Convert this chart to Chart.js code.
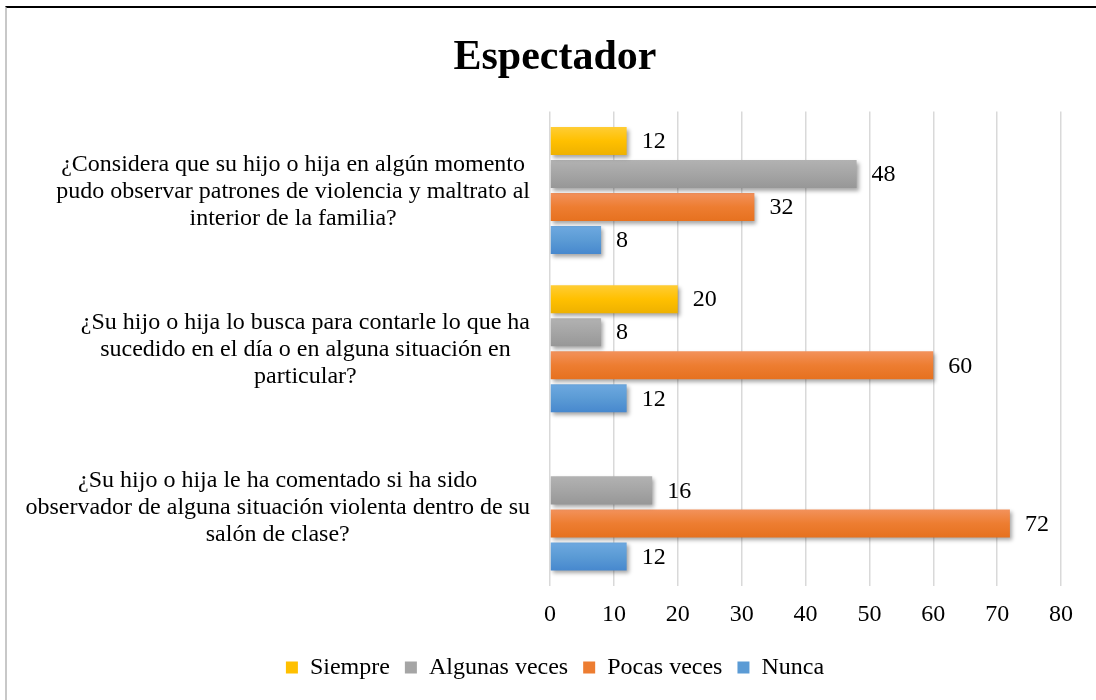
<!DOCTYPE html>
<html>
<head>
<meta charset="utf-8">
<script src="https://cdn.jsdelivr.net/npm/chart.js@4.4.1/dist/chart.umd.min.js"></script>
<style>
html,body{margin:0;padding:0;background:#fff;}
#frame{position:absolute;left:5px;top:6px;width:1095px;height:700px;border-top:2px solid #000;border-left:2px solid #c8c8c8;box-sizing:border-box;}
#wrap{position:absolute;left:0;top:0;width:1096px;height:700px;}
</style>
</head>
<body>
<div id="frame"></div>
<div id="wrap"><canvas id="c" width="1096" height="700"></canvas></div>
<script>
const categories = [
  ["¿Considera que su hijo o hija en algún momento", "pudo observar patrones de violencia y maltrato al", "interior de la familia?"],
  ["¿Su hijo o hija lo busca para contarle lo que ha", "sucedido en el día o en alguna situación en", "particular?"],
  ["¿Su hijo o hija le ha comentado si ha sido", "observador de alguna situación violenta dentro de su", "salón de clase?"]
];
const seriesNames = ["Siempre", "Algunas veces", "Pocas veces", "Nunca"];
const siempre = [12, 20, null];
const algunasVeces = [48, 8, 16];
const pocasVeces = [32, 60, 72];
const nunca = [8, 12, 12];
const xTicks = [0, 10, 20, 30, 40, 50, 60, 70, 80];

const baseColors = ["#FFC000", "#A5A5A5", "#ED7D31", "#5B9BD5"];
const gradTop = ["#FFCD35", "#B2B2B2", "#F3925C", "#6EA9E0"];
const gradBot = ["#EEB100", "#979797", "#E6711F", "#4788CE"];

const FONT = "'Liberation Serif', 'Times New Roman', serif";
const FS = 24;

const gradientPlugin = {
  id: 'grad',
  beforeDatasetsDraw(chart) {
    const ctx = chart.ctx;
    chart.data.datasets.forEach((ds, di) => {
      const meta = chart.getDatasetMeta(di);
      meta.data.forEach(el => {
        if (el.y == null || !el.options) return;
        const t = el.y - el.height / 2, b = el.y + el.height / 2;
        const g = ctx.createLinearGradient(0, t, 0, b);
        g.addColorStop(0, gradTop[di]);
        g.addColorStop(0.5, baseColors[di]);
        g.addColorStop(1, gradBot[di]);
        el.options.backgroundColor = g;
      });
    });
    ctx.save();
    ctx.shadowColor = 'rgba(0,0,0,0.35)';
    ctx.shadowBlur = 4;
    ctx.shadowOffsetX = 2;
    ctx.shadowOffsetY = 3;
  },
  afterDatasetsDraw(chart) {
    const ctx = chart.ctx;
    ctx.restore();
    ctx.save();
    ctx.font = FS + "px " + FONT;
    ctx.fillStyle = "#000";
    ctx.textAlign = "left";
    ctx.textBaseline = "middle";
    chart.data.datasets.forEach((ds, di) => {
      const meta = chart.getDatasetMeta(di);
      meta.data.forEach((el, i) => {
        const v = ds.data[i];
        if (v == null) return;
        ctx.fillText(String(v), el.x + 15, el.y + 1);
      });
    });
    ctx.restore();
  }
};

const labelPlugin = {
  id: 'catLabels',
  afterDraw(chart) {
    const ctx = chart.ctx;
    const y = chart.scales.y;
    ctx.save();
    ctx.font = FS + "px " + FONT;
    ctx.fillStyle = "#000";
    ctx.textAlign = "center";
    ctx.textBaseline = "middle";
    const right = 530, lh = 27;
    categories.forEach((lines, i) => {
      const cy = y.getPixelForValue(i) + 1;
      const bw = Math.max(...lines.map(l => ctx.measureText(l).width));
      const cx = right - bw / 2;
      const start = cy - (lines.length - 1) * lh / 2;
      lines.forEach((l, k) => ctx.fillText(l, cx, start + k * lh));
    });
    ctx.restore();
  }
};

const seriesData = [siempre, algunasVeces, pocasVeces, nunca];

new Chart(document.getElementById('c'), {
  type: 'bar',
  data: {
    labels: categories,
    datasets: seriesNames.map((n, i) => ({
      label: n,
      data: seriesData[i],
      backgroundColor: () => baseColors[i],
      borderWidth: 0,
      categoryPercentage: 0.835,
      barPercentage: 0.85
    }))
  },
  options: {
    indexAxis: 'y',
    responsive: false,
    animation: false,
    layout: { padding: { left: 49, right: 35, top: 0, bottom: 10.5 } },
    scales: {
      x: {
        min: 0, max: 80,
        afterBuildTicks: s => { s.ticks = xTicks.map(v => ({ value: v })); },
        afterFit: s => { s.height = 54.5; },
        grid: { color: '#D9D9D9', lineWidth: 1.5, drawTicks: false },
        border: { display: false },
        ticks: { font: { family: FONT, size: FS }, color: '#000', padding: 14 }
      },
      y: {
        grid: { display: false },
        border: { display: false },
        ticks: { display: false },
        afterFit: s => { s.width = 501; }
      }
    },
    plugins: {
      title: {
        display: true,
        text: 'Espectador',
        color: '#000',
        font: { family: FONT, size: 42, weight: 'bold' },
        padding: { top: 33, bottom: 28 }
      },
      legend: {
        position: 'bottom',
        labels: {
          font: { family: FONT, size: FS },
          color: '#000',
          boxWidth: 12,
          boxHeight: 12,
          padding: 15,
          generateLabels: chart => chart.data.datasets.map((d, i) => ({
            text: d.label, fillStyle: baseColors[i], strokeStyle: baseColors[i], lineWidth: 0, datasetIndex: i
          }))
        }
      },
      tooltip: { enabled: false }
    }
  },
  plugins: [gradientPlugin, labelPlugin]
});
</script>
</body>
</html>
